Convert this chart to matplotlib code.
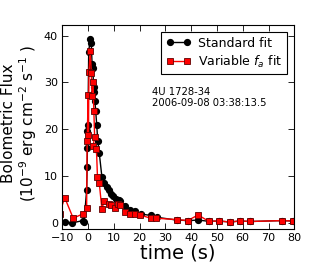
import matplotlib
matplotlib.use("Agg")
import matplotlib.pyplot as plt

std_t = [-9, -6, -2, -1.5, -0.5, -0.3, -0.2, -0.2, 0.0, 0.3, 0.9, 1.3, 1.6, 1.9, 2.2, 2.5, 2.7, 3.0, 3.4, 3.8, 4.4, 5.4, 6.3, 7.4, 8.1, 8.9, 9.9, 10.9, 12.0, 12.6, 14.4, 16.2, 18.3, 20.4, 24.3, 26.7, 34.5, 38.7, 42.7, 46.8, 50.8, 55.0, 59.0, 63.0, 75.4, 79.4]
std_f = [0.1, 0.0, 0.5, 0.2, 7.0, 12.0, 16.0, 19.6, 21.0, 36.6, 39.3, 38.4, 34.0, 33.0, 29.0, 28.0, 26.0, 24.0, 21.0, 17.6, 14.9, 9.9, 8.5, 7.7, 7.0, 6.1, 5.7, 5.2, 4.9, 4.6, 3.6, 2.7, 2.5, 1.9, 1.6, 1.2, 0.6, 0.5, 0.6, 0.35, 0.4, 0.2, 0.4, 0.3, 0.5, 0.4]

var_t = [-11, -9, -5.7, -2.1, -0.5, -0.3, 0.1, 0.2, 0.4, 0.9, 1.3, 1.6, 2.0, 2.3, 2.6, 2.0, 3.3, 3.7, 4.4, 5.4, 6.3, 8.2, 9.1, 10.4, 11.7, 12.5, 14.4, 16.2, 18.3, 20.2, 24.3, 26.3, 34.7, 38.7, 42.7, 46.8, 50.8, 55.0, 59.0, 63.0, 75.4, 79.4]
var_f = [2.0, 5.4, 1.0, 1.9, 3.1, 17.4, 27.3, 18.8, 32.3, 36.7, 32.1, 27.1, 30.0, 23.8, 18.4, 16.4, 15.8, 9.8, 8.5, 3.0, 4.6, 4.1, 3.8, 3.2, 4.0, 3.8, 2.3, 1.9, 1.9, 1.7, 1.0, 1.0, 0.7, 0.5, 1.7, 0.35, 0.4, 0.2, 0.4, 0.3, 0.5, 0.4]

xticks = [-10, 0, 10, 20, 30, 40, 50, 60, 70, 80]
yticks = [0, 10, 20, 30, 40]

fig = plt.figure(figsize=(3.27, 2.62), dpi=100)
ax = fig.add_axes([0.19, 0.126, 0.71, 0.779])
ax.plot(std_t, std_f, '-', color='black', marker='o', ms=4.2, mfc='black', mec='black', lw=1.0, label='Standard fit')
ax.plot(var_t, var_f, '-', color='red', marker='s', ms=4.5, mfc='red', mec='#600000', mew=0.6, lw=1.0, label='Variable $f_a$ fit')
ax.set_xlim(-10, 80)
ax.set_ylim(-1.3, 42.3)
ax.set_xticks(xticks)
ax.set_yticks(yticks)
ax.tick_params(direction='in', top=True, right=True, labelsize=8, length=4, width=0.6, pad=3)
for s in ax.spines.values():
    s.set_linewidth(0.8)
ax.set_xlabel('time (s)', fontsize=14, labelpad=0)
fig.text(1.0 / 327, 0.53, 'Bolometric Flux\n($10^{-9}$ erg cm$^{-2}$ s$^{-1}$ )', fontsize=11,
         rotation=90, ha='left', va='center', multialignment='center', linespacing=1.05)
leg = ax.legend(loc='upper right', fontsize=9, numpoints=2, fancybox=False, framealpha=1,
                edgecolor='black', borderpad=0.35, handlelength=2.0, handletextpad=0.6,
                labelspacing=0.3, borderaxespad=0.6)
leg.get_frame().set_linewidth(0.8)
ax.text(25, 29, '4U 1728-34\n2006-09-08 03:38:13.5', fontsize=7.2, va='top', ha='left', linespacing=1.1)
fig.savefig('out.png', dpi=100)
